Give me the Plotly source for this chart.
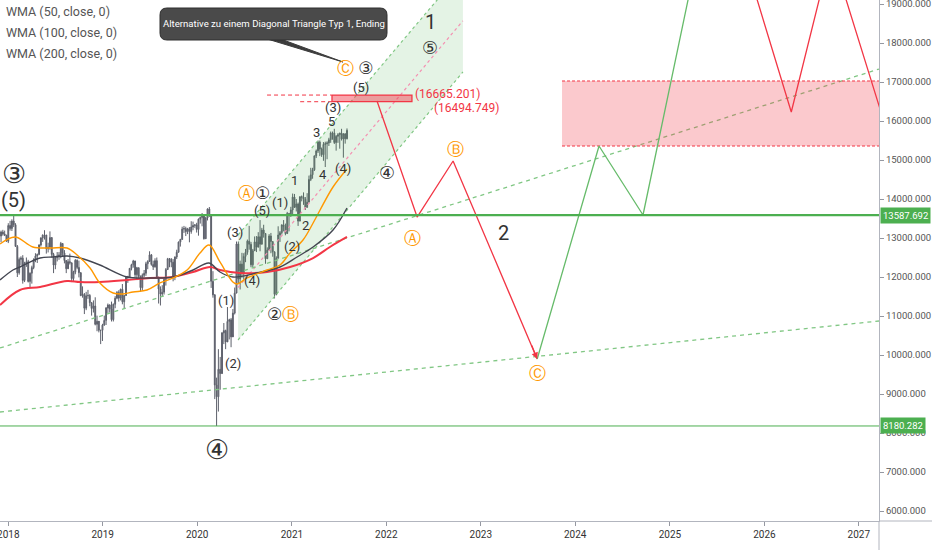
import plotly.graph_objects as go
import pandas as pd

# ---------------- weekly bars ----------------
first_week = "2017-12-04"
first_open = 13050
close = [
    13153, 13103, 13072, 12918,                      # Dec 17
    13320, 13245, 13434, 13340, 12785,               # Jan 18
    12107, 12452, 12483, 11913,                      # Feb
    12346, 12390, 11887, 12097,                      # Mar
    12241, 12442, 12540, 12580, 12820,               # Apr
    13001, 13078, 13078, 12724,                      # May
    12767, 13011, 12580, 12306,                      # Jun
    12496, 12541, 12561, 12860, 12616,               # Jul
    12424, 12211, 12394, 12364,                      # Aug
    11960, 12124, 12430, 12247,                      # Sep
    12112, 11523, 11553, 11201, 11519,               # Oct
    11529, 11341, 11193, 11257,                      # Nov
    10788, 10866, 10634, 10633, 10767,               # Dec
    10888, 11205, 11282, 11181,                      # Jan 19
    10907, 11300, 11457, 11602,                      # Feb
    11458, 11686, 11364, 11526,                      # Mar
    12010, 11999, 12222, 12315, 12412,               # Apr
    12059, 12239, 12011, 11727,                      # May
    12045, 12096, 12340, 12399,                      # Jun
    12568, 12323, 12260, 12419, 12000,               # Jul
    11694, 11562, 11611, 11939,                      # Aug
    12191, 12469, 12468, 12381, 12013,               # Sep
    12512, 12634, 12895, 12961,                      # Oct
    13228, 13242, 13164, 13236,                      # Nov
    13166, 13282, 13319, 13337, 13219,               # Dec
    13483, 13526, 13577, 12982,                      # Jan 20
    13514, 13745, 13579, 11890,                      # Feb
    11542, 9232, 8929, 9633, 9525,                   # Mar
    10565, 10626, 10336, 10861,                      # Apr
    10904, 10465, 11074, 11587,                      # May
    12848, 11949, 12331, 12089, 12528,               # Jun
    12633, 12920, 12839, 12313,                      # Jul
    12675, 12901, 12765, 13033, 12843,               # Aug
    13203, 13116, 12469, 12689,                      # Sep
    13051, 12909, 12646, 11556,                      # Oct
    12480, 13077, 13137, 13336, 13298,               # Nov
    13114, 13631, 13587, 13719,                      # Dec
    14049, 13787, 13873, 13433,                      # Jan 21
    14057, 14050, 13993, 13786,                      # Feb
    13920, 14502, 14621, 14749, 15107,               # Mar
    15234, 15459, 15280, 15136,                      # Apr
    15400, 15417, 15437, 15520, 15693,               # May
    15693, 15448, 15607, 15650,                      # Jun
    15688, 15540, 15669, 15544,                      # Jul
    15761,                                           # Aug
]
high = [
    13190, 13210, 13190, 13080,
    13380, 13440, 13480, 13596, 13380,
    12820, 12500, 12530, 12560,
    12390, 12500, 12440, 12120,
    12290, 12480, 12610, 12600, 12840,
    13020, 13090, 13200, 13070,
    12880, 13170, 13000, 12620,
    12520, 12640, 12640, 12900, 12850,
    12690, 12390, 12460, 12600,
    12350, 12160, 12460, 12450,
    12420, 12000, 11760, 11590, 11620,
    11670, 11560, 11360, 11400,
    11480, 11010, 10830, 10640, 10800,
    11010, 11230, 11320, 11300,
    11370, 11320, 11510, 11640,
    11660, 11700, 11820, 11540,
    12020, 12030, 12230, 12340, 12440,
    12330, 12260, 12240, 12040,
    12090, 12180, 12390, 12430,
    12660, 12590, 12420, 12480, 12500,
    11880, 11760, 11790, 11980,
    12230, 12490, 12480, 12470, 12460,
    12530, 12700, 12910, 12980,
    13290, 13310, 13290, 13260,
    13280, 13430, 13420, 13350, 13390,
    13500, 13550, 13640, 13420,
    13540, 13760, 13795, 13540,
    12150, 11560, 9420, 10150, 9950,
    10590, 10820, 10650, 11230,
    10930, 10950, 11180, 11730,
    12910, 12910, 12420, 12620, 12610,
    12720, 12960, 13310, 12900,
    12720, 13040, 13050, 13150, 13460,
    13260, 13340, 13090, 12760,
    13100, 13130, 12900, 12640,
    12530, 13300, 13180, 13350, 13460,
    13370, 13670, 13630, 13800,
    14140, 14130, 14000, 13910,
    14070, 14090, 14170, 14050,
    14150, 14600, 14800, 14800, 15110,
    15270, 15500, 15500, 15320,
    15460, 15470, 15480, 15570, 15730,
    15730, 15800, 15640, 15690,
    15700, 15800, 15690, 15690,
    15810,
]
low = [
    12890, 13060, 13050, 12900,
    12870, 13190, 13180, 13280, 12770,
    12000, 12060, 12300, 11830,
    11870, 12260, 11860, 11730,
    11830, 12200, 12380, 12360, 12560,
    12780, 12900, 12960, 12600,
    12630, 12700, 12500, 12100,
    12200, 12400, 12440, 12480, 12530,
    12350, 12100, 12220, 12320,
    11870, 11900, 12070, 12200,
    11990, 11510, 11470, 11050, 11150,
    11440, 11250, 11010, 11090,
    10760, 10610, 10580, 10280, 10360,
    10750, 10770, 11060, 11090,
    10860, 10860, 11200, 11430,
    11370, 11400, 11300, 11180,
    11540, 11850, 11980, 12170, 12240,
    11990, 11920, 11960, 11620,
    11650, 11990, 12030, 12200,
    12440, 12290, 12180, 12240, 11980,
    11320, 11270, 11500, 11550,
    11780, 12180, 12250, 12250, 11890,
    11920, 12460, 12630, 12780,
    12960, 13130, 13050, 13100,
    12890, 13110, 13200, 13260, 13140,
    13060, 13370, 13300, 12960,
    12990, 13450, 13540, 11720,
    11470, 8870, 8180, 8550, 9110,
    9580, 10280, 10150, 10400,
    10400, 10200, 10520, 11040,
    11610, 11820, 11680, 11980, 11930,
    12380, 12570, 12700, 12250,
    12250, 12700, 12640, 12900, 12660,
    12830, 13010, 12340, 12470,
    12690, 12610, 12520, 11450,
    11530, 12480, 12900, 13090, 13170,
    13070, 13150, 13170, 13540,
    13600, 13770, 13680, 13310,
    13450, 13940, 13850, 13720,
    13800, 13930, 14460, 14520, 14720,
    15050, 15180, 15100, 15080,
    14980, 14820, 15020, 15360, 15440,
    15520, 15410, 15240, 15440,
    15290, 15500, 15060, 15420,
    15530,
]

# ---------------- moving averages ----------------
wma50_dates = ["2017-11-30", "2018-01-27", "2018-04-06", "2018-06-11", "2018-08-16", "2018-09-24",
               "2018-11-13", "2018-12-21", "2019-02-10", "2019-03-20", "2019-04-28", "2019-06-21",
               "2019-08-10", "2019-09-30", "2019-11-23", "2020-01-12", "2020-02-16", "2020-03-29",
               "2020-05-18", "2020-06-03", "2020-07-12", "2020-09-27", "2020-11-16", "2020-12-25",
               "2021-02-13", "2021-03-24", "2021-04-20", "2021-06-09", "2021-08-02"]
wma50_vals = [12846, 13026, 12770, 12744, 12744, 12564, 12231, 11847, 11590, 11564, 11616, 11667,
              11847, 11975, 12180, 12616, 12821, 12385, 11872, 11821, 11975, 12180, 12308, 12616,
              12949, 13385, 13718, 14308, 14770]
wma100_dates = ["2017-11-30", "2018-01-19", "2018-02-15", "2018-05-04", "2018-06-23", "2018-08-16",
                "2018-10-05", "2018-12-21", "2019-04-05", "2019-07-03", "2019-09-30", "2019-12-16",
                "2020-02-16", "2020-03-29", "2020-05-18", "2020-08-19", "2020-11-16", "2021-01-21",
                "2021-03-24", "2021-06-09", "2021-08-02"]
wma100_vals = [11923, 12180, 12257, 12487, 12513, 12539, 12487, 12308, 12000, 11975, 12000, 12180,
               12359, 12128, 12000, 12103, 12257, 12513, 12770, 13205, 13769]
wma200_dates = ["2017-11-30", "2018-02-15", "2018-05-04", "2018-08-16", "2018-10-05", "2018-12-21",
                "2019-04-05", "2019-07-03", "2019-09-30", "2019-12-16", "2020-02-20", "2020-03-29",
                "2020-06-14", "2020-09-27", "2020-12-25", "2021-03-24", "2021-05-28", "2021-08-02"]
wma200_vals = [11282, 11667, 11744, 11898, 11872, 11872, 11923, 11975, 12000, 12128, 12257, 12180,
               12103, 12128, 12257, 12487, 12770, 13026]

# ---------------- drawings ----------------
support_level = 13587.692
low_level = 8180.282
box_top, box_bottom = 16665.201, 16494.749
zone_top, zone_bottom = 17026, 15359

trend_low_dates, trend_low_vals = ["2017-11-30", "2027-03-20"], [8539, 10872]
trend_up_dates, trend_up_vals = ["2017-11-30", "2027-03-20"], [10180, 17333]

chan_dates = ["2020-06-07", "2022-10-24"]
chan_upper = [13077, 19884]
chan_lower = [10385, 17257]
chan_mid = [11731, 18570]

wave_red_dates = ["2021-11-26", "2022-04-30", "2022-09-16", "2023-08-07"]
wave_red_vals = [16513, 13538, 14975, 9898]
wave_green_dates = ["2023-08-07", "2024-04-02", "2024-09-19", "2025-06-29"]
wave_green_vals = [9898, 15359, 13590, 22560]
wave_red2_dates = ["2025-06-29", "2026-04-15", "2026-09-16", "2027-04-17"]
wave_red2_vals = [22560, 16231, 20346, 15795]

box_x = ["2021-06-05", "2022-04-10"]
zone_x = ["2023-11-11", "2027-06-01"]

DARK, ORANGE = "#333333", "#ff9800"


def o(s):
    return f"<span style='color:{ORANGE}'>{s}</span>"


wave_text = ["③", "(5)", o("Ⓐ") + "①", "(5)", "(3)", "(1)", "(2)", "(4)", "②" + o("Ⓑ"), "(1)", "1",
             "(2)", "2", "3", "4", "5", "(3)", "(4)", "(5)", o("Ⓒ") + " ③", "1", "⑤", "④", "Ⓑ", "Ⓐ",
             "2", "Ⓒ", "④"]
wave_date = ["2018-01-23", "2018-01-23", "2020-08-07", "2020-09-07", "2020-05-26",
             "2020-04-21", "2020-05-18", "2020-07-31", "2020-11-27", "2020-11-16",
             "2021-01-13", "2021-01-01", "2021-02-21", "2021-04-08", "2021-05-02", "2021-06-05",
             "2021-06-09", "2021-07-18", "2021-09-25", "2021-09-02", "2022-06-19",
             "2022-06-19", "2022-01-04", "2022-09-24", "2022-04-14", "2023-03-28", "2023-08-07",
             "2020-03-17"]
wave_value = [14641, 13975, 14154, 13693, 13154, 11385, 9795, 11898, 11052, 13923,
              14462, 12770, 13333, 15718, 14616, 16000, 16359, 14795, 16872, 17359, 18538,
              17872, 14667, 15282, 13000, 13128, 9539, 7565]
wave_color = [DARK, DARK, DARK, DARK, DARK, DARK, DARK, DARK, DARK, DARK, DARK, DARK,
              DARK, DARK, DARK, DARK, DARK, DARK, DARK, DARK, DARK, DARK, DARK, ORANGE, ORANGE,
              DARK, ORANGE, DARK]
wave_size = [27, 20, 17, 13, 13, 13, 13, 13, 17, 13, 13, 13, 13, 13, 13, 13, 13, 13, 13, 17,
             20, 18, 18, 17, 17, 20, 17, 27]

legend_lines = ["WMA (50, close, 0)", "WMA (100, close, 0)", "WMA (200, close, 0)"]
callout_text = "Alternative zu einem Diagonal Triangle Typ 1, Ending"

NARROW = "Roboto, Liberation Sans, sans-serif"
LABEL_FONT = "Roboto, DejaVu Sans, sans-serif"
RED = "#f23645"
GREEN = "#4caf50"
LGREEN = "#81c784"

# ---------------- figure ----------------
dates = pd.date_range(first_week, periods=len(close), freq="7D")
opens = [first_open] + close[:-1]

fig = go.Figure()

# channel fill and borders
fig.add_trace(go.Scatter(x=[chan_dates[0], chan_dates[1], chan_dates[1], chan_dates[0], chan_dates[0]],
                         y=[chan_upper[0], chan_upper[1], chan_lower[1], chan_lower[0], chan_upper[0]],
                         fill="toself", fillcolor="rgba(76,175,80,0.15)", line=dict(width=0),
                         mode="lines", hoverinfo="skip", showlegend=False))
for ys, col in [(chan_upper, LGREEN), (chan_lower, LGREEN), (chan_mid, "#f48fb1")]:
    fig.add_trace(go.Scatter(x=chan_dates, y=ys, mode="lines",
                             line=dict(color=col, width=1.2, dash="dot"),
                             hoverinfo="skip", showlegend=False))

# trend lines
for xs, ys in [(trend_low_dates, trend_low_vals), (trend_up_dates, trend_up_vals)]:
    fig.add_trace(go.Scatter(x=xs, y=ys, mode="lines",
                             line=dict(color=LGREEN, width=1.3, dash="4px,4px"),
                             hoverinfo="skip", showlegend=False))

# pink target zone
fig.add_trace(go.Scatter(x=[zone_x[0], zone_x[1], zone_x[1], zone_x[0], zone_x[0]],
                         y=[zone_top, zone_top, zone_bottom, zone_bottom, zone_top],
                         fill="toself", fillcolor="rgba(242,54,69,0.27)", line=dict(width=0),
                         mode="lines", hoverinfo="skip", showlegend=False))
for lvl in (zone_top, zone_bottom):
    fig.add_trace(go.Scatter(x=zone_x, y=[lvl, lvl], mode="lines",
                             line=dict(color=RED, width=1, dash="3px,2px"),
                             hoverinfo="skip", showlegend=False))

# candles
fig.add_trace(go.Candlestick(x=dates, open=opens, high=high, low=low, close=close,
                             increasing=dict(line=dict(color="#5d606b", width=1), fillcolor="#8a8d96"),
                             decreasing=dict(line=dict(color="#5d606b", width=1), fillcolor="#5d606b"),
                             whiskerwidth=0, hoverinfo="skip", showlegend=False))

# moving averages
fig.add_trace(go.Scatter(x=wma200_dates, y=wma200_vals, mode="lines", line=dict(color=RED, width=2, shape="spline"),
                         hoverinfo="skip", showlegend=False))
fig.add_trace(go.Scatter(x=wma100_dates, y=wma100_vals, mode="lines", line=dict(color="#434651", width=1.4, shape="spline"),
                         hoverinfo="skip", showlegend=False))
fig.add_trace(go.Scatter(x=wma50_dates, y=wma50_vals, mode="lines", line=dict(color=ORANGE, width=1.4, shape="spline"),
                         hoverinfo="skip", showlegend=False))

# small resistance box + level lines
fig.add_trace(go.Scatter(x=["2020-09-27", box_x[0]], y=[box_top, box_top], mode="lines",
                         line=dict(color=RED, width=1, dash="4px,3px"), hoverinfo="skip", showlegend=False))
fig.add_trace(go.Scatter(x=["2021-02-02", box_x[0]], y=[box_bottom, box_bottom], mode="lines",
                         line=dict(color=RED, width=1, dash="4px,3px"), hoverinfo="skip", showlegend=False))
fig.add_trace(go.Scatter(x=[box_x[0], box_x[1], box_x[1], box_x[0], box_x[0]],
                         y=[box_top, box_top, box_bottom, box_bottom, box_top],
                         fill="toself", fillcolor="rgba(242,54,69,0.45)", line=dict(color=RED, width=1.3),
                         mode="lines", hoverinfo="skip", showlegend=False))

# projected waves
fig.add_trace(go.Scatter(x=wave_red_dates, y=wave_red_vals, mode="lines", line=dict(color=RED, width=1.3),
                         hoverinfo="skip", showlegend=False))
fig.add_trace(go.Scatter(x=wave_green_dates, y=wave_green_vals, mode="lines", line=dict(color="#66bb6a", width=1.3),
                         hoverinfo="skip", showlegend=False))
fig.add_trace(go.Scatter(x=wave_red2_dates, y=wave_red2_vals, mode="lines", line=dict(color=RED, width=1.3),
                         hoverinfo="skip", showlegend=False))

PW, PH = 879, 521


def fx(px):
    return px / PW


def fy(py):
    return 1 - py / PH


def rounded(x0, y0, x1, y1, r):
    return (f"M {fx(x0 + r)},{fy(y0)} L {fx(x1 - r)},{fy(y0)} Q {fx(x1)},{fy(y0)} {fx(x1)},{fy(y0 + r)} "
            f"L {fx(x1)},{fy(y1 - r)} Q {fx(x1)},{fy(y1)} {fx(x1 - r)},{fy(y1)} "
            f"L {fx(x0 + r)},{fy(y1)} Q {fx(x0)},{fy(y1)} {fx(x0)},{fy(y1 - r)} "
            f"L {fx(x0)},{fy(y0 + r)} Q {fx(x0)},{fy(y0)} {fx(x0 + r)},{fy(y0)} Z")


shapes = [
    dict(type="line", xref="paper", yref="y", x0=0, x1=1, y0=support_level, y1=support_level,
         line=dict(color=GREEN, width=2.2)),
    dict(type="line", xref="paper", yref="y", x0=0, x1=1, y0=low_level, y1=low_level,
         line=dict(color=GREEN, width=1)),
    # callout
    dict(type="path", xref="paper", yref="paper",
         path=f"M {fx(264)},{fy(38)} L {fx(343)},{fy(62)} L {fx(278)},{fy(38)} Z",
         fillcolor="#3c3c3c", line=dict(color="#3c3c3c", width=1)),
    dict(type="path", xref="paper", yref="paper", path=rounded(160, 8, 387, 40, 7),
         fillcolor="#4a4a4a", line=dict(color="#2e2e2e", width=1)),
    # axis line extensions
    dict(type="line", xref="paper", yref="paper", x0=1, x1=1, y0=0, y1=-29 / PH,
         line=dict(color="#b2b5be", width=1)),
    dict(type="line", xref="paper", yref="paper", x0=1, x1=932 / PW, y0=0, y1=0,
         line=dict(color="#b2b5be", width=1)),
]

annotations = []
for t, d, v, c, s in zip(wave_text, wave_date, wave_value, wave_color, wave_size):
    annotations.append(dict(x=d, y=v, xref="x", yref="y", text=t, showarrow=False,
                            font=dict(color=c, size=s, family=LABEL_FONT),
                            xanchor="center", yanchor="middle"))

for i, t in enumerate(legend_lines):
    annotations.append(dict(x=fx(4), y=fy(12 + 20.5 * i), xref="paper", yref="paper", text=t,
                            showarrow=False, xanchor="left", yanchor="middle",
                            font=dict(color="#555555", size=12.5, family=NARROW)))

annotations.append(dict(x=fx(273.5), y=fy(24), xref="paper", yref="paper", text=callout_text,
                        showarrow=False, xanchor="center", yanchor="middle",
                        font=dict(color="white", size=9.6, family=NARROW)))

# arrow head at the end of the red wave
annotations.append(dict(x=wave_red_dates[-1], y=wave_red_vals[-1], xref="x", yref="y", text="",
                        showarrow=True, arrowhead=2, arrowsize=1, arrowwidth=1.3, arrowcolor=RED,
                        ax=-6, ay=-15))

# level labels
annotations.append(dict(x="2022-04-14", y=box_top + 20, xref="x", yref="y", text="(16665.201)", showarrow=False,
                        xanchor="left", yanchor="middle", font=dict(color=RED, size=12, family=NARROW)))
annotations.append(dict(x="2022-06-28", y=box_bottom - 160, xref="x", yref="y", text="(16494.749)",
                        showarrow=False, xanchor="left", yanchor="middle",
                        font=dict(color=RED, size=12, family=NARROW)))

for lvl, txt in [(support_level, "13587.692"), (low_level, "8180.282")]:
    annotations.append(dict(x=1, y=lvl, xref="paper", yref="y", text=txt, showarrow=False,
                            xanchor="left", yanchor="middle", xshift=1, bgcolor=GREEN, borderpad=2,
                            font=dict(color="white", size=9.5, family=NARROW)))

fig.update_layout(
    width=932, height=550,
    margin=dict(l=0, r=53, t=0, b=29),
    paper_bgcolor="white", plot_bgcolor="white",
    showlegend=False, hovermode=False,
    shapes=shapes, annotations=annotations,
    xaxis=dict(type="date", range=["2017-11-30", "2027-03-20"], tickformat="%Y", dtick="M12",
               tick0="2018-01-01", ticks="outside", ticklen=4, tickcolor="#9598a1",
               showline=True, linecolor="#b2b5be", linewidth=1, showgrid=False, zeroline=False,
               ticklabeloverflow="allow", automargin=False,
               rangeslider=dict(visible=False), tickfont=dict(color="#333333", size=10, family=NARROW)),
    yaxis=dict(side="right", range=[5744, 19102.6], dtick=1000, tick0=0, tickformat=".3f",
               ticks="outside", ticklen=4, tickcolor="#9598a1", showline=True, linecolor="#b2b5be",
               linewidth=1, showgrid=False, zeroline=False, ticklabeloverflow="allow", automargin=False,
               ticklabelstandoff=0,
               tickfont=dict(color="#555555", size=9.5, family=NARROW)),
)

fig.write_html("out.html")
